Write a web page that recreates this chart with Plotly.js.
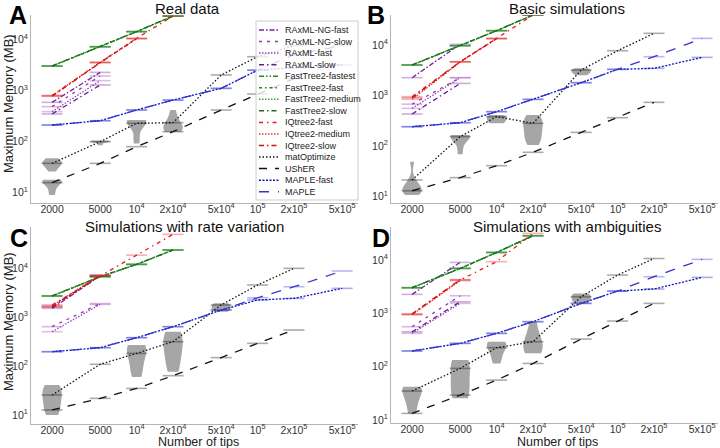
<!DOCTYPE html>
<html><head><meta charset="utf-8">
<script src="https://cdn.plot.ly/plotly-3.0.1.min.js"></script>
<style>html,body{margin:0;padding:0;background:#fff}#chart{width:720px;height:448px}</style>
</head><body><div id="chart"></div>
<script>
// ---------------- data ----------------
const tips = [2000, 5000, 10000, 20000, 50000, 100000, 200000, 500000];
const tickText = ['2000','5000','10<sup>4</sup>','2x10<sup>4</sup>','5x10<sup>4</sup>','10<sup>5</sup>','2x10<sup>5</sup>','5x10<sup>5</sup>'];
const yTickVals = [10, 100, 1000, 10000];
const yTickText = ['10<sup>1</sup>','10<sup>2</sup>','10<sup>3</sup>','10<sup>4</sup>'];
const panelTitles = ['Real data','Basic simulations','Simulations with rate variation','Simulations with ambiguities'];
const panelLetters = ['A','B','C','D'];
const methodNames = ['RAxML-NG-fast','RAxML-NG-slow','RAxML-fast','RAxML-slow','FastTree2-fastest','FastTree2-fast','FastTree2-medium','FastTree2-slow','IQtree2-fast','IQtree2-medium','IQtree2-slow','matOptimize','UShER','MAPLE-fast','MAPLE'];

// Maximum memory (MB); one list per panel (A, B, C, D), aligned with tips
const raxmlNgFast = [[586,2260],[2254,10300],[1518,6970],[2270,9040]];
const raxmlNgSlow = [[482,1920],[676,2254],[640,1900],[562,2140]];
const raxmlFast   = [[385,1555],[558,2254],[506,1830],[422,1540]];
const raxmlSlow   = [[347,1280],[431,1740],[1600,7200],[450,1650]];
const ftFastest = [[3010,7190,14200,28600],[4020,9680,19200,39200],[2720,6740,12050,23700],[3030,6980,13900,28600]];
const ftFast    = [[2990,7150,14100,28400],[4000,9650,19100,39000],[2700,6720,12000,23600],[3010,6960,13850,28500]];
const ftMedium  = [[3000,7170,14150,28500],[4010,9660,19150,39100],[2710,6730,12020,23650],[3020,6970,13870,28550]];
const ftSlow    = [[3020,7200,14250,28700],[4030,9700,19250,39300],[2730,6750,12080,23750],[3040,6990,13920,28650]];
const iqFast   = [[800,3560,10500,28600],[950,4680,13500,39200],[1780,6970,18600,49500],[957,4220,9330,31600]];
const iqMedium = [[790,3540,10400],[841,4600,13300],[1700,7300],[940,4100]];
const iqSlow   = [[770,3500,10300],[900,4650,13400],[1650,7100],[980,4300]];
const matOptimize = [[37.5,99.5,228,234,2010,4580,7500],[21.4,154,382,282,3200,7700,17000],[25.6,109,182,316,1780,4560,9980],[35,93,227,294,2050,5230,10700]];
const usher = [[15.7,37.5,79.5,156,415,851,1700],[13.1,23.8,41,75.4,187,365,735],[12.7,21.9,35,63.7,149,292,547],[13.3,29.4,56,115,330,718,1540]];
const mapleFast = [[211,256,415,650,1100,2500,2800,3160],[242,290,480,841,1795,3300,3450,5690],[197,238,381,640,1400,2250,2430,3890],[197,274,422,698,1540,2620,2860,4730]];
const maple = [[211,256,415,650,1100,2500,5000,7500],[242,290,480,841,1795,3300,5870,13500],[197,238,381,640,1400,2500,4200,8810],[197,274,422,698,1540,2620,4870,10300]];

// spread of repeated runs (grey violins), MB
const violinTips = [[2000,2000,5000,10000,20000],[2000,5000,10000,20000,50000],[2000,10000,20000,50000],[2000,5000,10000,20000,50000]];
const violinSamples = [
  [[26,30,34,36,38,40,44,47],[9,11,14,16,16.5,17,17.5,18],[85,98,100,102,105],[92,120,200,240,250,255,260,264],[155,165,175,190,210,240,300,415]],
  [[10.8,12,13,14,15,17,22,49],[69,100,140,150,158,162,166],[282,300,330,360,390,412],[105,115,130,150,170,195,220,250,280,310,340,380,412],[2530,2800,3000,3200,3470]],
  [[10,12,15,20,25,30,36,41],[60,90,150,220,250,270],[77,120,200,300,400,506],[1300,1500,1700,1920]],
  [[13.3,20,30,38,40,42],[25.5,28,40,60,90,120,133],[115,160,220,260,280,294],[178,200,240,300,400,698],[1540,1800,2100,2370]]
];

const seriesData = [raxmlNgFast, raxmlNgSlow, raxmlFast, raxmlSlow, ftFastest, ftFast, ftMedium, ftSlow, iqFast, iqMedium, iqSlow, matOptimize, usher, mapleFast, maple];

// ---------------- styles ----------------
const styles = [
  {c:'#7a1f9c', d:'5px,2px,1.5px,2px'},
  {c:'#8e3aa8', d:'3px,5px'},
  {c:'#9b44c2', d:'1.5px,1.5px'},
  {c:'#6a1b8a', d:'5px,3px,1.5px,3px'},
  {c:'#1f8a1f', d:'5px,2px,1.5px,2px,1.5px,2px'},
  {c:'#2e7d32', d:'3px,3px,1.5px,3px'},
  {c:'#37a037', d:'1.5px,1.5px'},
  {c:'#1b6e1b', d:'5px,3px,1.5px,3px'},
  {c:'#e02020', d:'4px,4px,1.5px,4px'},
  {c:'#e83a3a', d:'1.5px,1.5px'},
  {c:'#d01010', d:'5px,3px,1.5px,3px'},
  {c:'#111111', d:'1.5px,2px'},
  {c:'#111111', d:'8px,8px'},
  {c:'#1010c0', d:'2px,1.5px'},
  {c:'#3535d0', d:'10px,9px'}
];
function rgba(hex, a){const n=parseInt(hex.slice(1),16);return `rgba(${n>>16},${(n>>8)&255},${n&255},${a})`;}

const W = 720, H = 448;
const FONT = '"Liberation Sans",Arial,sans-serif';
const panels = [
  {x0:31, x1:358, y0:15, y1:203, yr:[0.798,4.477]},
  {x0:391,x1:718, y0:15, y1:203, yr:[0.875,4.593]},
  {x0:31, x1:358, y0:227,y1:424, yr:[0.816,4.845]},
  {x0:391,x1:718, y0:227,y1:423, yr:[0.944,4.62]}
];
const XR = [3.127, 5.83];

const layout = {width:W, height:H, margin:{l:0,r:0,t:0,b:0}, showlegend:false,
  paper_bgcolor:'#fff', plot_bgcolor:'rgba(0,0,0,0)', violinmode:'overlay',
  font:{family:FONT, color:'#222'}, annotations:[], shapes:[]};
const traces = [];

panels.forEach((p, i) => {
  const s = i === 0 ? '' : String(i+1);
  const m = String(i+5);
  const xd = [p.x0/W, p.x1/W], yd = [1-p.y1/H, 1-p.y0/H];
  layout['xaxis'+s] = {domain:xd, range:XR, visible:false, anchor:'y'+s, fixedrange:true};
  layout['yaxis'+s] = {domain:yd, range:p.yr, visible:false, anchor:'x'+s, fixedrange:true};
  layout['xaxis'+m] = {type:'log', range:XR, overlaying:'x'+s, anchor:'y'+m, tickmode:'array', tickvals:tips, ticktext:tickText,
    showline:true, linecolor:'#b5b5b5', linewidth:1, showgrid:false, zeroline:false, ticks:'', ticklabelstandoff:-4,
    tickfont:{size:10.5, color:'#333', family:FONT}};
  layout['yaxis'+m] = {type:'log', range:p.yr, overlaying:'y'+s, anchor:'x'+m, tickmode:'array', tickvals:yTickVals, ticktext:yTickText,
    showline:true, linecolor:'#b5b5b5', linewidth:1, showgrid:false, zeroline:false, ticks:'',
    tickfont:{size:10.5, color:'#333', family:FONT}};

  // grey violins (base linear axes, log10 space)
  violinTips[i].forEach((t, k) => {
    const vals = violinSamples[i][k];
    traces.push({type:'violin', x: vals.map(() => Math.log10(t)), y: vals.map(v => Math.log10(v)),
      xaxis:'x'+s, yaxis:'y'+s, width:0.16, spanmode:'hard', points:false, box:{visible:false}, meanline:{visible:false},
      line:{width:0}, fillcolor:'rgba(150,150,150,0.85)', hoverinfo:'skip', scalemode:'width'});
  });

  // method lines
  seriesData.forEach((arr, j) => {
    const vals = arr[i];
    traces.push({type:'scatter', mode:'lines+markers', x: tips.slice(0, vals.length), y: vals,
      xaxis:'x'+m, yaxis:'y'+m, name: methodNames[j],
      line:{color:styles[j].c, width:1.3, dash:styles[j].d},
      marker:{symbol:'line-ew', size:15, line:{width:1.6, color:rgba(styles[j].c, 0.35)}},
      hoverinfo:'skip'});
  });

  // titles & letters
  const tc = [[187,9],[567,9],[185,226],[567,226]][i];
  layout.annotations.push({text:panelTitles[i], xref:'paper', yref:'paper', x:tc[0]/W, y:1-tc[1]/H, xanchor:'center', yanchor:'middle', showarrow:false, font:{size:15, color:'#111', family:FONT}});
  const lc = [[18,15],[376,15],[19,238],[381,238]][i];
  layout.annotations.push({text:'<b>'+panelLetters[i]+'</b>', xref:'paper', yref:'paper', x:lc[0]/W, y:1-lc[1]/H, xanchor:'center', yanchor:'middle', showarrow:false, font:{size:25, color:'#000', family:FONT}});
});

// axis titles
[[8,104],[8,322]].forEach(c => layout.annotations.push({text:'Maximum Memory (MB)', xref:'paper', yref:'paper', x:c[0]/W, y:1-c[1]/H, xanchor:'center', yanchor:'middle', textangle:-90, showarrow:false, font:{size:13, color:'#222', family:FONT}}));
[[198,442],[557,442]].forEach(c => layout.annotations.push({text:'Number of tips', xref:'paper', yref:'paper', x:c[0]/W, y:1-c[1]/H, xanchor:'center', yanchor:'middle', showarrow:false, font:{size:12.5, color:'#222', family:FONT}}));

// legend (panel A)
layout.shapes.push({type:'rect', xref:'paper', yref:'paper', x0:256/W, x1:358/W, y0:1-200/H, y1:1-21/H, fillcolor:'rgba(255,255,255,0.8)', line:{color:'#cccccc', width:1}});
methodNames.forEach((nm, j) => {
  const y = 1-(30+j*11.55)/H;
  layout.shapes.push({type:'line', xref:'paper', yref:'paper', x0:259/W, x1:279/W, y0:y, y1:y, line:{color:styles[j].c, width:1.5, dash:styles[j].d}});
  layout.annotations.push({text:nm, xref:'paper', yref:'paper', x:283/W, y:y, xanchor:'left', yanchor:'middle', showarrow:false, font:{size:9, color:'#222', family:FONT}});
});

Plotly.newPlot('chart', traces, layout, {staticPlot:true, displayModeBar:false});
</script>
</body></html>
